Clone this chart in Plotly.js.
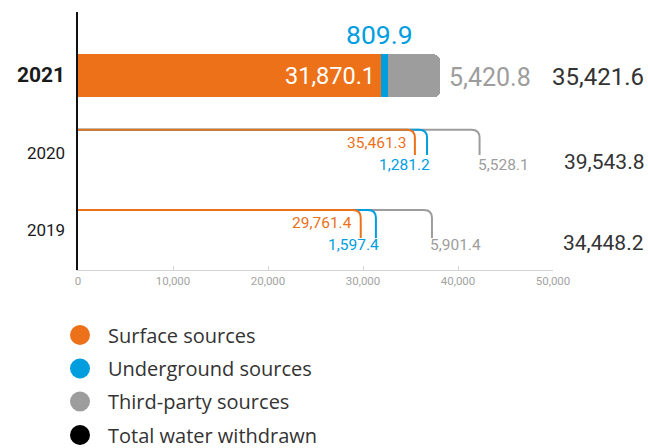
<!DOCTYPE html>
<html>
<head>
<meta charset="utf-8">
<script src="https://cdn.plot.ly/plotly-3.0.1.min.js"></script>
<style>html,body{margin:0;padding:0;background:#fff;}#chart{width:648px;height:448px;}</style>
</head>
<body>
<div id="chart"></div>
<script>
// ---- data ----
const years = ['2019', '2020', '2021'];
const surface = [29761.4, 35461.3, 31870.1];
const underground = [1597.4, 1281.2, 809.9];
const thirdParty = [5901.4, 5528.1, 5420.8];
const totals = [34448.2, 39543.8, 35421.6];
const seriesNames = ['Surface sources', 'Underground sources', 'Third-party sources', 'Total water withdrawn'];
const xTickVals = [0, 10000, 20000, 30000, 40000, 50000];

// ---- style ----
const ORANGE = '#EC7119', BLUE = '#009EDF', GREY = '#9D9D9D', DARK = '#333333', BLACK = '#000000';
const seriesColors = [ORANGE, BLUE, GREY, BLACK];
const NUM_FONT = "Roboto, 'Liberation Sans', sans-serif";
const LEG_FONT = "'Open Sans', sans-serif";

const fmt = v => v.toLocaleString('en-US', {minimumFractionDigits: 1, maximumFractionDigits: 1});

const XMAX = 50000, PLOT_W = 475, UNIT_PX = 77;
const rx = 8 / PLOT_W * XMAX;   // corner radius in x units
const ry = 8 / UNIT_PX;         // corner radius in y units

const highlight = 2; // 2021 drawn as solid bar
const traces = [
  {type: 'bar', orientation: 'h', y: [highlight], x: [surface[highlight]], width: 0.56,
   marker: {color: ORANGE, line: {width: 0}, cornerradius: 6}, name: seriesNames[0], hoverinfo: 'x'},
  {type: 'bar', orientation: 'h', y: [highlight], x: [underground[highlight]], width: 0.56,
   marker: {color: BLUE, line: {width: 0}}, name: seriesNames[1], hoverinfo: 'x'},
  {type: 'bar', orientation: 'h', y: [highlight], x: [thirdParty[highlight]], width: 0.56,
   marker: {color: GREY, line: {width: 0}}, name: seriesNames[2], hoverinfo: 'x'}
];

const shapes = [];
const annotations = [];

// bracket rows (2019, 2020)
const rowTop = {0: 0.26, 1: 1.30};
const rowBot = {0: -0.104, 1: 0.974};
const lblUp = {0: 0.09, 1: 1.13};
const lblDown = {0: -0.195, 1: 0.844};
const totY = {0: -0.17, 1: 0.883};

function bracket(xe, yt, yb, color) {
  return {type: 'path', xref: 'x', yref: 'y', layer: 'above',
    path: `M 0,${yt} L ${xe - rx},${yt} Q ${xe},${yt} ${xe},${yt - ry} L ${xe},${yb}`,
    line: {color: color, width: 2}};
}

[0, 1].forEach(i => {
  const e1 = surface[i], e2 = surface[i] + underground[i], e3 = e2 + thirdParty[i];
  shapes.push(bracket(e3, rowTop[i], rowBot[i], GREY));
  shapes.push(bracket(e2, rowTop[i], rowBot[i], BLUE));
  shapes.push(bracket(e1, rowTop[i], rowBot[i], ORANGE));
  annotations.push({xref: 'x', yref: 'y', x: e1, y: lblUp[i], text: fmt(surface[i]), showarrow: false,
    xanchor: 'right', yanchor: 'middle', xshift: -7, font: {family: NUM_FONT, size: 15.5, color: ORANGE}});
  annotations.push({xref: 'x', yref: 'y', x: e2, y: lblDown[i], text: fmt(underground[i]), showarrow: false,
    xanchor: 'right', yanchor: 'middle', xshift: 5, font: {family: NUM_FONT, size: 15.5, color: BLUE}});
  annotations.push({xref: 'x', yref: 'y', x: e3, y: lblDown[i], text: fmt(thirdParty[i]), showarrow: false,
    xanchor: 'left', yanchor: 'middle', xshift: -4, font: {family: NUM_FONT, size: 15.5, color: GREY}});
  annotations.push({xref: 'paper', yref: 'y', x: (646 - 78) / PLOT_W, y: totY[i], text: fmt(totals[i]), showarrow: false,
    xanchor: 'right', yanchor: 'middle', font: {family: NUM_FONT, size: 21, color: DARK}});
});

// 2021 labels
{
  const i = highlight;
  const e1 = surface[i], e2 = e1 + underground[i], e3 = e2 + thirdParty[i];
  annotations.push({xref: 'x', yref: 'y', x: e1, y: i + 0.0, text: fmt(surface[i]), showarrow: false,
    xanchor: 'right', yanchor: 'middle', xshift: -4, font: {family: NUM_FONT, size: 23.5, color: '#ffffff'}});
  annotations.push({xref: 'x', yref: 'y', x: (e1 + e2) / 2, y: i + 0.54, text: fmt(underground[i]), showarrow: false,
    xanchor: 'center', yanchor: 'middle', xshift: -5, font: {family: NUM_FONT, size: 26.5, color: BLUE}});
  annotations.push({xref: 'x', yref: 'y', x: e3, y: i - 0.02, text: fmt(thirdParty[i]), showarrow: false,
    xanchor: 'left', yanchor: 'middle', xshift: 7, font: {family: NUM_FONT, size: 25, color: GREY}});
  annotations.push({xref: 'paper', yref: 'y', x: (646 - 78) / PLOT_W, y: i - 0.02, text: fmt(totals[i]), showarrow: false,
    xanchor: 'right', yanchor: 'middle', font: {family: NUM_FONT, size: 24, color: DARK}});
}

// legend (custom, circles + text)
const legPy = [335, 368.5, 401.5, 435];
seriesNames.forEach((name, k) => {
  const py = (270 - legPy[k]) / 258;
  shapes.push({type: 'circle', xref: 'paper', yref: 'paper', xsizemode: 'pixel', ysizemode: 'pixel',
    xanchor: (80 - 78) / PLOT_W, yanchor: py, x0: -10, x1: 10, y0: -10, y1: 10,
    fillcolor: seriesColors[k], line: {width: 0}});
  annotations.push({xref: 'paper', yref: 'paper', x: (106 - 78) / PLOT_W, y: py, text: name, showarrow: false,
    xanchor: 'left', yanchor: 'middle', font: {family: LEG_FONT, size: 20, color: DARK}});
});

const ticktext = years.map((y, k) => k === highlight ? `<b><span style="font-size:21px">${y}</span></b>` : y);

const layout = {
  width: 648, height: 448,
  margin: {l: 78, r: 95, t: 12, b: 178, pad: 0},
  paper_bgcolor: '#ffffff', plot_bgcolor: '#ffffff',
  barmode: 'stack', showlegend: false,
  xaxis: {range: [0, XMAX], tickvals: xTickVals, tickformat: ',d', showgrid: false, zeroline: false,
    showline: true, linecolor: '#d3d3d3', linewidth: 1, ticks: 'inside', ticklen: 4, tickcolor: '#d3d3d3',
    tickfont: {family: NUM_FONT, size: 11.5, color: '#a3a3a3'}, fixedrange: true},
  yaxis: {range: [-0.52, 2.83], tickvals: [0, 1, 2], ticktext: ticktext, showgrid: false, zeroline: false,
    showline: true, linecolor: '#111111', linewidth: 2.5, ticks: '', ticklabelstandoff: 7,
    tickfont: {family: NUM_FONT, size: 17, color: '#1a1a1a'}, fixedrange: true},
  shapes: shapes,
  annotations: annotations
};

Plotly.newPlot('chart', traces, layout, {displayModeBar: false, staticPlot: true});
</script>
</body>
</html>
